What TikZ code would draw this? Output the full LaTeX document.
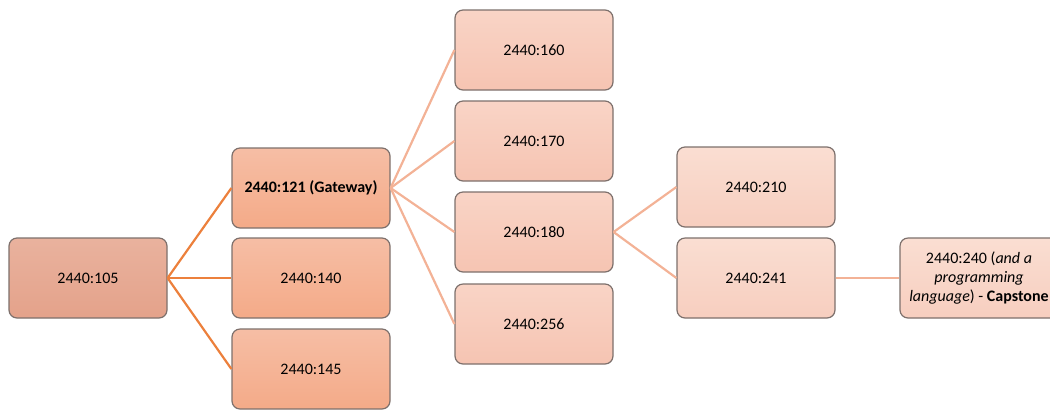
\documentclass[tikz,border=0pt]{standalone}
\usepackage{fontspec}
\setmainfont{Carlito}
\usetikzlibrary{positioning}
\definecolor{rootfill}{RGB}{228,162,138}
\definecolor{rootfilltop}{RGB}{233,178,158}
\definecolor{midfill}{RGB}{244,170,136}
\definecolor{midfilltop}{RGB}{246,190,165}
\definecolor{upfill}{RGB}{246,196,178}
\definecolor{upfilltop}{RGB}{249,212,198}
\definecolor{topfill}{RGB}{247,206,191}
\definecolor{topfilltop}{RGB}{250,222,210}
\definecolor{boxedge}{RGB}{125,112,108}
\definecolor{linkdark}{RGB}{236,128,60}
\definecolor{linklight}{RGB}{243,178,150}
\tikzset{
  course/.style={
    rectangle, rounded corners=4pt, minimum width=79pt, minimum height=40pt,
    draw=boxedge, line width=0.6pt, text centered, font=\fontsize{8}{9.5}\selectfont,
    inner sep=2pt
  },
  rootbox/.style={course, top color=rootfilltop, bottom color=rootfill},
  midbox/.style={course, top color=midfilltop, bottom color=midfill},
  upbox/.style={course, top color=upfilltop, bottom color=upfill},
  topbox/.style={course, top color=topfilltop, bottom color=topfill},
  linkd/.style={line width=1.1pt, color=linkdark},
  linkl/.style={line width=1.1pt, color=linklight}
}
\begin{document}
\begin{tikzpicture}[x=0.5pt, y=-0.5pt]
  \useasboundingbox (0,0) rectangle (1050,409);

  % First course
  \node[rootbox] (c105) at (88, 278) {2440:105};

  % Second level
  \node[midbox] (c121) at (311, 188) {\textbf{2440:121 (Gateway)}};
  \node[midbox] (c140) at (311, 278) {2440:140};
  \node[midbox] (c145) at (311, 369) {2440:145};

  % Third level
  \node[upbox] (c160) at (534, 50)  {2440:160};
  \node[upbox] (c170) at (534, 141) {2440:170};
  \node[upbox] (c180) at (534, 232) {2440:180};
  \node[upbox] (c256) at (534, 324) {2440:256};

  % Fourth level
  \node[topbox] (c210) at (756, 187) {2440:210};
  \node[topbox] (c241) at (756, 278) {2440:241};

  % Capstone
  \node[topbox, align=center] (c240) at (979, 278)
    {2440:240 (\textit{and a}\\ \textit{programming}\\ \textit{language}) - \textbf{Capstone}};

  % Links
  \foreach \n in {c121, c140, c145}
    \draw[linkd] (c105.east) -- (\n.west);
  \foreach \n in {c160, c170, c180, c256}
    \draw[linkl] (c121.east) -- (\n.west);
  \foreach \n in {c210, c241}
    \draw[linkl] (c180.east) -- (\n.west);
  \draw[linkl] (c241.east) -- (c240.west);
\end{tikzpicture}
\end{document}
